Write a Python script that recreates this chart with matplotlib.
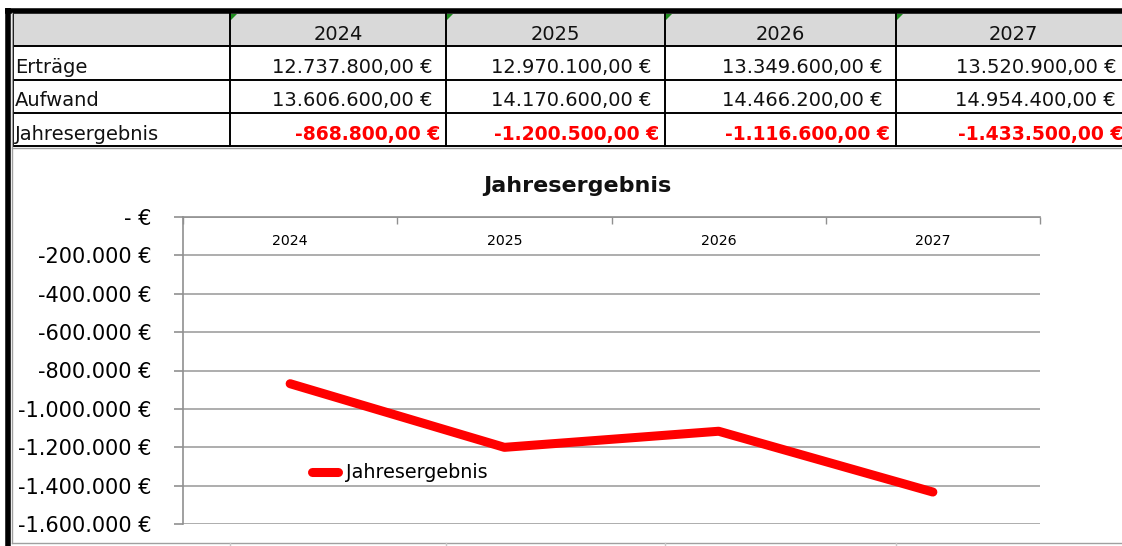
import matplotlib
matplotlib.use("Agg")
import matplotlib.pyplot as plt
from matplotlib.patches import Rectangle, Polygon
from matplotlib.lines import Line2D
from matplotlib.ticker import FuncFormatter

# data read from the sheet
years = ["2024", "2025", "2026", "2027"]
row_labels = ["Erträge", "Aufwand", "Jahresergebnis"]
ertraege = [12737800, 12970100, 13349600, 13520900]
aufwand = [13606600, 14170600, 14466200, 14954400]
ergebnis = [-868800, -1200500, -1116600, -1433500]
y_ticks = [0, -200000, -400000, -600000, -800000, -1000000, -1200000, -1400000, -1600000]

W, H = 1122, 546
plt.rcParams['font.family'] = ['DejaVu Sans']

fig = plt.figure(figsize=(W / 100, H / 100), dpi=100)


def px(x, y):
    # pixel position (from top left) -> figure fraction
    return x / W, 1 - y / H


def vline(x, y1, y2, **kw):
    fig.add_artist(Line2D([x / W, x / W], [1 - y1 / H, 1 - y2 / H], transform=fig.transFigure, **kw))


def hline(y, x1, x2, **kw):
    fig.add_artist(Line2D([x1 / W, x2 / W], [1 - y / H, 1 - y / H], transform=fig.transFigure, **kw))


def de_num(v, dec=2):
    s = f"{abs(v):,.{dec}f}".replace(",", "X").replace(".", ",").replace("X", ".")
    return ("-" if v < 0 else "") + s


# ---------------- table ----------------
col_x = [13, 230, 446, 665, 896, 1130]
row_y = [13, 46, 80, 113, 146]

x0, y0 = px(13, 46)
fig.patches.append(Rectangle((x0, y0), (1130 - 13) / W, 33 / H, transform=fig.transFigure,
                             facecolor="#d9d9d9", edgecolor="none", zorder=0))

for cx in col_x:
    vline(cx, row_y[0], row_y[-1], color="black", lw=1.4)
for ry in row_y[1:]:
    hline(ry, 13, W, color="black", lw=1.4)

# thick frame on top and left, grey sheet lines
hline(10.5, 5, W, color="black", lw=4, solid_capstyle="butt")
vline(7.5, 8, H, color="black", lw=4, solid_capstyle="butt")
vline(12, 13, 543, color="#a0a0a0", lw=1)
hline(148.5, 12, W, color="#a0a0a0", lw=1)
hline(543, 12, W, color="#a0a0a0", lw=1)
for cx in col_x[1:5]:
    vline(cx, 543, H, color="#c8c8c8", lw=1)

# little green corner marks
for cx in col_x[1:5]:
    pts = [px(cx + 1, 14), px(cx + 7, 14), px(cx + 1, 20)]
    fig.add_artist(Polygon(pts, closed=True, facecolor="#1e8c1e", edgecolor="none",
                           transform=fig.transFigure))

tsize = 14
for i, yr in enumerate(years):
    xc = (col_x[i + 1] + col_x[i + 2]) / 2
    fig.text(*px(xc, 39.5), yr, ha="center", va="baseline", fontsize=tsize, color="#111111")

rows = [ertraege, aufwand, ergebnis]
baselines = [73, 106.5, 140]
for r, (lab, vals) in enumerate(zip(row_labels, rows)):
    yb = baselines[r]
    fig.text(*px(15, yb), lab, ha="left", va="baseline", fontsize=tsize, color="#111111")
    for i, v in enumerate(vals):
        txt = de_num(v) + " €"
        if r == 2:
            fig.text(*px(col_x[i + 2] - 6, yb), txt, ha="right", va="baseline",
                     fontsize=13.5, color="#ff0000", fontweight="bold")
        else:
            fig.text(*px(col_x[i + 2] - 14, yb), txt, ha="right", va="baseline",
                     fontsize=tsize, color="#111111")

# ---------------- chart ----------------
left, right, top, bottom = 183, 1040, 217, 524
ax = fig.add_axes([left / W, 1 - bottom / H, (right - left) / W, (bottom - top) / H])

xs = list(range(len(years)))
ax.plot(xs, ergebnis, color="#ff0000", lw=6.5, solid_capstyle="round",
        solid_joinstyle="round", label="Jahresergebnis", zorder=3)

ax.set_xlim(-0.5, len(years) - 0.5)
ax.set_ylim(y_ticks[-1], y_ticks[0])
ax.set_yticks(y_ticks)


def eur(v, pos):
    if v == 0:
        return "- €"
    return de_num(v, 0) + " €"


ax.yaxis.set_major_formatter(FuncFormatter(eur))
ax.grid(axis="y", color="#a0a0a0", lw=1.2)
ax.set_axisbelow(True)

ax.set_xticks(xs)
ax.set_xticklabels(years)
ax.set_xticks([x - 0.5 for x in range(len(years) + 1)], minor=True)
ax.tick_params(axis="x", which="major", top=True, bottom=False, labeltop=True,
               labelbottom=False, length=0, pad=-22, labelsize=10.2)
ax.tick_params(axis="x", which="minor", top=True, bottom=False, direction="in",
               length=5, color="#909090", width=1)
ax.tick_params(axis="y", which="major", length=6.5, color="#909090", width=1.2,
               pad=16, labelsize=15)

for s in ["right", "bottom"]:
    ax.spines[s].set_visible(False)
for s in ["left", "top"]:
    ax.spines[s].set_color("#909090")
    ax.spines[s].set_linewidth(1.2)

fig.text(*px(577, 192), "Jahresergebnis", ha="center", va="baseline", fontsize=16,
         fontweight="bold", color="#111111")

ax.legend(loc="center left", bbox_to_anchor=px(311.5, 473), bbox_transform=fig.transFigure,
          frameon=False, fontsize=13.8, handlelength=1.4, handletextpad=0.39,
          borderpad=0, borderaxespad=0)

fig.savefig("out.png", dpi=100)
